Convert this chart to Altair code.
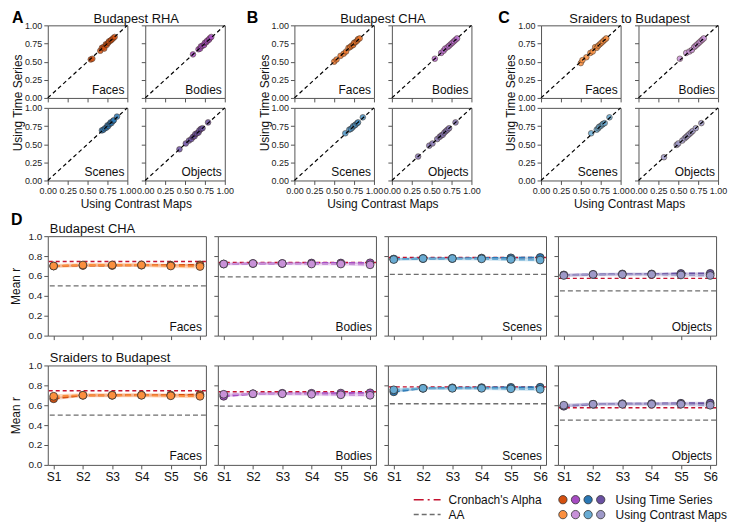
import altair as alt
import pandas as pd

# ---------------- labels ----------------
CATEGORIES = ["Faces", "Bodies", "Scenes", "Objects"]
PANEL_TITLES = ["Budapest RHA", "Budapest CHA", "Sraiders to Budapest"]
PANEL_LETTERS = ["A", "B", "C"]
ROW_TITLES = ["Budapest CHA", "Sraiders to Budapest"]
SESSIONS = ["S1", "S2", "S3", "S4", "S5", "S6"]
SERIES = ["Using Time Series", "Using Contrast Maps"]
SCATTER_TICKS = [0.0, 0.25, 0.5, 0.75, 1.0]
MEAN_TICKS = [0.0, 0.2, 0.4, 0.6, 0.8, 1.0]

# ---------------- scatter data (contrast maps r, time series r) ----------------
RHA_FACES_CM = [0.54, 0.56, 0.66, 0.68, 0.70, 0.71, 0.73, 0.74, 0.76, 0.77, 0.79, 0.80, 0.82, 0.84]
RHA_FACES_TS = [0.53, 0.54, 0.65, 0.69, 0.70, 0.68, 0.74, 0.73, 0.76, 0.78, 0.79, 0.80, 0.82, 0.84]
RHA_BODIES_CM = [0.60, 0.67, 0.69, 0.70, 0.72, 0.74, 0.75, 0.77, 0.78, 0.80, 0.81, 0.83]
RHA_BODIES_TS = [0.60, 0.67, 0.68, 0.71, 0.72, 0.73, 0.76, 0.77, 0.79, 0.80, 0.82, 0.84]
RHA_SCENES_CM = [0.68, 0.70, 0.72, 0.74, 0.75, 0.76, 0.78, 0.79, 0.80, 0.82, 0.83, 0.87]
RHA_SCENES_TS = [0.69, 0.70, 0.72, 0.73, 0.76, 0.75, 0.78, 0.80, 0.79, 0.82, 0.83, 0.88]
RHA_OBJECTS_CM = [0.43, 0.51, 0.55, 0.58, 0.60, 0.62, 0.63, 0.65, 0.67, 0.68, 0.70, 0.72, 0.79]
RHA_OBJECTS_TS = [0.43, 0.51, 0.55, 0.57, 0.60, 0.61, 0.64, 0.65, 0.66, 0.69, 0.71, 0.72, 0.80]

CHA_FACES_CM = [0.50, 0.53, 0.58, 0.62, 0.65, 0.68, 0.70, 0.72, 0.74, 0.75, 0.77, 0.79, 0.80, 0.82]
CHA_FACES_TS = [0.50, 0.53, 0.58, 0.61, 0.64, 0.69, 0.70, 0.72, 0.73, 0.76, 0.77, 0.79, 0.81, 0.82]
CHA_BODIES_CM = [0.54, 0.62, 0.65, 0.67, 0.70, 0.72, 0.74, 0.76, 0.78, 0.80, 0.82]
CHA_BODIES_TS = [0.54, 0.62, 0.65, 0.68, 0.70, 0.72, 0.74, 0.76, 0.78, 0.80, 0.82]
CHA_SCENES_CM = [0.64, 0.69, 0.71, 0.73, 0.74, 0.76, 0.77, 0.79, 0.80, 0.86]
CHA_SCENES_TS = [0.65, 0.70, 0.71, 0.73, 0.75, 0.76, 0.77, 0.79, 0.80, 0.87]
CHA_OBJECTS_CM = [0.33, 0.47, 0.51, 0.57, 0.60, 0.62, 0.64, 0.66, 0.68, 0.70, 0.72, 0.80]
CHA_OBJECTS_TS = [0.33, 0.48, 0.51, 0.57, 0.60, 0.62, 0.63, 0.66, 0.68, 0.70, 0.72, 0.80]

SRA_FACES_CM = [0.50, 0.52, 0.57, 0.62, 0.65, 0.68, 0.70, 0.72, 0.74, 0.76, 0.78, 0.80, 0.82]
SRA_FACES_TS = [0.48, 0.52, 0.56, 0.62, 0.64, 0.70, 0.69, 0.72, 0.74, 0.76, 0.78, 0.80, 0.82]
SRA_BODIES_CM = [0.52, 0.60, 0.64, 0.67, 0.70, 0.72, 0.74, 0.76, 0.78, 0.80, 0.82]
SRA_BODIES_TS = [0.54, 0.62, 0.64, 0.66, 0.70, 0.72, 0.74, 0.76, 0.78, 0.80, 0.82]
SRA_SCENES_CM = [0.63, 0.70, 0.72, 0.73, 0.75, 0.77, 0.78, 0.80, 0.86]
SRA_SCENES_TS = [0.65, 0.70, 0.72, 0.74, 0.75, 0.77, 0.78, 0.79, 0.87]
SRA_OBJECTS_CM = [0.32, 0.48, 0.50, 0.55, 0.58, 0.60, 0.62, 0.64, 0.66, 0.68, 0.72, 0.79]
SRA_OBJECTS_TS = [0.32, 0.49, 0.51, 0.55, 0.58, 0.60, 0.62, 0.64, 0.66, 0.68, 0.72, 0.79]

# ---------------- panel D data (mean r per session) ----------------
CHA_FACES_TSM = [0.700, 0.705, 0.705, 0.708, 0.708, 0.712]
CHA_FACES_CMM = [0.700, 0.710, 0.710, 0.710, 0.700, 0.695]
CHA_BODIES_TSM = [0.720, 0.725, 0.725, 0.730, 0.730, 0.732]
CHA_BODIES_CMM = [0.720, 0.725, 0.725, 0.720, 0.720, 0.712]
CHA_SCENES_TSM = [0.770, 0.775, 0.776, 0.780, 0.782, 0.786]
CHA_SCENES_CMM = [0.765, 0.775, 0.775, 0.772, 0.766, 0.760]
CHA_OBJECTS_TSM = [0.610, 0.615, 0.620, 0.620, 0.625, 0.626]
CHA_OBJECTS_CMM = [0.605, 0.615, 0.615, 0.615, 0.610, 0.605]

SRA_FACES_TSM = [0.665, 0.700, 0.700, 0.702, 0.702, 0.706]
SRA_FACES_CMM = [0.690, 0.700, 0.700, 0.700, 0.695, 0.690]
SRA_BODIES_TSM = [0.690, 0.715, 0.720, 0.720, 0.722, 0.725]
SRA_BODIES_CMM = [0.710, 0.715, 0.715, 0.710, 0.705, 0.700]
SRA_SCENES_TSM = [0.735, 0.770, 0.775, 0.777, 0.780, 0.781]
SRA_SCENES_CMM = [0.755, 0.770, 0.770, 0.770, 0.765, 0.760]
SRA_OBJECTS_TSM = [0.590, 0.610, 0.615, 0.616, 0.620, 0.622]
SRA_OBJECTS_CMM = [0.600, 0.610, 0.610, 0.610, 0.610, 0.600]

# band half widths per category (Faces, Bodies, Scenes, Objects)
CHA_TS_CI = [0.012, 0.010, 0.010, 0.012]
CHA_CM_CI = [0.020, 0.016, 0.016, 0.018]
SRA_TS_CI = [0.014, 0.012, 0.012, 0.014]
SRA_CM_CI = [0.020, 0.016, 0.016, 0.018]

CRONBACH_ALPHA = [0.745, 0.735, 0.785, 0.575]
AA = [0.500, 0.590, 0.615, 0.450]

# ---------------- styles ----------------
DARK = {"Faces": "#d4500f", "Bodies": "#a64cc2", "Scenes": "#2a77b4", "Objects": "#6a50a2"}
MID = {"Faces": "#ec7428", "Bodies": "#b86ccf", "Scenes": "#4a93c6", "Objects": "#8374b2"}
LIGHT = {"Faces": "#fb8f3e", "Bodies": "#c891d8", "Scenes": "#68abd3", "Objects": "#9e99c8"}
PANEL_SHADES = [DARK, MID, LIGHT]
FONT = "Liberation Sans"

SCATTER = {
    ("Budapest RHA", "Faces"): (RHA_FACES_CM, RHA_FACES_TS),
    ("Budapest RHA", "Bodies"): (RHA_BODIES_CM, RHA_BODIES_TS),
    ("Budapest RHA", "Scenes"): (RHA_SCENES_CM, RHA_SCENES_TS),
    ("Budapest RHA", "Objects"): (RHA_OBJECTS_CM, RHA_OBJECTS_TS),
    ("Budapest CHA", "Faces"): (CHA_FACES_CM, CHA_FACES_TS),
    ("Budapest CHA", "Bodies"): (CHA_BODIES_CM, CHA_BODIES_TS),
    ("Budapest CHA", "Scenes"): (CHA_SCENES_CM, CHA_SCENES_TS),
    ("Budapest CHA", "Objects"): (CHA_OBJECTS_CM, CHA_OBJECTS_TS),
    ("Sraiders to Budapest", "Faces"): (SRA_FACES_CM, SRA_FACES_TS),
    ("Sraiders to Budapest", "Bodies"): (SRA_BODIES_CM, SRA_BODIES_TS),
    ("Sraiders to Budapest", "Scenes"): (SRA_SCENES_CM, SRA_SCENES_TS),
    ("Sraiders to Budapest", "Objects"): (SRA_OBJECTS_CM, SRA_OBJECTS_TS),
}
D_TS = [[CHA_FACES_TSM, CHA_BODIES_TSM, CHA_SCENES_TSM, CHA_OBJECTS_TSM],
        [SRA_FACES_TSM, SRA_BODIES_TSM, SRA_SCENES_TSM, SRA_OBJECTS_TSM]]
D_CM = [[CHA_FACES_CMM, CHA_BODIES_CMM, CHA_SCENES_CMM, CHA_OBJECTS_CMM],
        [SRA_FACES_CMM, SRA_BODIES_CMM, SRA_SCENES_CMM, SRA_OBJECTS_CMM]]
D_TS_CI = [CHA_TS_CI, SRA_TS_CI]
D_CM_CI = [CHA_CM_CI, SRA_CM_CI]

# ---------------- geometry ----------------
SW, SH = 80, 73
S_COL_GAP, S_ROW_GAP = 18, 10
SPACER_W = 34
PANEL_W = 2 * SW + S_COL_GAP
LETTER_DX = [-36, -48, -43]
DW, DH = 159, 100
D_COL_GAP, D_ROW_GAP = 12, 30
LEG_H = 36
NOFRAME = alt.ViewBackground(stroke="transparent")


def txt(s, x, y, **kw):
    return alt.Chart(pd.DataFrame({"t": [s]})).mark_text(**kw).encode(
        text="t:N", x=alt.value(x), y=alt.value(y))


def scatter_cell(p, ci, r, c):
    cat = CATEGORIES[ci]
    cm, ts = SCATTER[(PANEL_TITLES[p], cat)]
    color = PANEL_SHADES[p][cat]
    xax = alt.Axis(values=SCATTER_TICKS, format=".2f", labels=(r == 1), title=None,
                   labelFontSize=9, labelFlush=False, labelPadding=2)
    yax = alt.Axis(values=SCATTER_TICKS, format=".2f", labels=(c == 0), title=None,
                   labelFontSize=9, labelPadding=2)
    xenc = alt.X("cm:Q", scale=alt.Scale(domain=[0, 1], nice=False, zero=False), axis=xax)
    yenc = alt.Y("ts:Q", scale=alt.Scale(domain=[0, 1], nice=False, zero=False), axis=yax)
    pts = alt.Chart(pd.DataFrame({"cm": cm, "ts": ts})).mark_circle(
        size=32, color=color, opacity=0.85, stroke="#3a2a20", strokeWidth=0.6
    ).encode(x=xenc, y=yenc)
    diag = alt.Chart(pd.DataFrame({"cm": [0.0, 1.0], "ts": [0.0, 1.0]})).mark_line(
        color="black", strokeDash=[4, 3], strokeWidth=1.2
    ).encode(x=xenc, y=yenc)
    lab = txt(cat, SW - 3, SH - 4, align="right", baseline="alphabetic", fontSize=12, color="#111")
    layers = [pts, diag, lab]
    if r == 0 and c == 0:
        layers += [
            txt(PANEL_LETTERS[p], LETTER_DX[p], -2, align="left", baseline="alphabetic",
                fontSize=16, fontWeight="bold", color="#000"),
            txt(PANEL_TITLES[p], PANEL_W / 2, -2, align="center", baseline="alphabetic",
                fontSize=13, color="#111"),
            txt("Using Time Series", -30, SH + S_ROW_GAP / 2, align="center", baseline="middle",
                angle=270, fontSize=12, color="#111"),
            txt("Using Contrast Maps", PANEL_W / 2, 2 * SH + S_ROW_GAP + 24, align="center",
                baseline="middle", fontSize=12, color="#111"),
        ]
    return alt.layer(*layers).properties(width=SW, height=SH)


def spacer():
    return alt.Chart(pd.DataFrame({"v": [0]})).mark_point(opacity=0).encode(
        x=alt.value(0), y=alt.value(0)).properties(width=SPACER_W, height=SH, view=NOFRAME)


top_cells = []
for r in range(2):
    for p in range(3):
        for c in range(2):
            top_cells.append(scatter_cell(p, 2 * r + c, r, c))
        if p < 2:
            top_cells.append(spacer())

top = alt.concat(*top_cells, columns=8, spacing={"row": S_ROW_GAP, "column": S_COL_GAP},
                 bounds="flush", align="each")


def d_cell(r, ci):
    cat = CATEGORIES[ci]
    ts = D_TS[r][ci]
    cm = D_CM[r][ci]
    tci = D_TS_CI[r][ci]
    cci = D_CM_CI[r][ci]
    df_ts = pd.DataFrame({"session": SESSIONS, "r": ts,
                          "lo": [v - tci for v in ts], "hi": [v + tci for v in ts]})
    df_cm = pd.DataFrame({"session": SESSIONS, "r": cm,
                          "lo": [v - cci for v in cm], "hi": [v + cci for v in cm]})
    xax = alt.Axis(labels=(r == 1), title=None, labelFontSize=12, labelAngle=0,
                   labelPadding=3, labelColor="#111")
    yax = alt.Axis(values=MEAN_TICKS, format=".1f", labels=(ci == 0),
                   title=("Mean r" if ci == 0 else None), labelFontSize=10,
                   titleFontSize=12, titleFontWeight="normal", titlePadding=6, labelPadding=2)
    xenc = alt.X("session:O", scale=alt.Scale(domain=SESSIONS, padding=0.2), axis=xax)

    def yenc(f):
        return alt.Y(f, scale=alt.Scale(domain=[0, 1], nice=False, zero=False), axis=yax)

    aa = alt.Chart(pd.DataFrame({"v": [AA[ci]]})).mark_rule(
        color="#6e6e6e", strokeDash=[5, 3], strokeWidth=1.3).encode(y=yenc("v:Q"))
    band_cm = alt.Chart(df_cm).mark_area(color=LIGHT[cat], opacity=0.35).encode(
        x=xenc, y=yenc("lo:Q"), y2="hi:Q")
    band_ts = alt.Chart(df_ts).mark_area(color=DARK[cat], opacity=0.25).encode(
        x=xenc, y=yenc("lo:Q"), y2="hi:Q")
    alpha = alt.Chart(pd.DataFrame({"v": [CRONBACH_ALPHA[ci]]})).mark_rule(
        color="#c4122f", strokeDash=[4, 3], strokeWidth=1.4).encode(y=yenc("v:Q"))
    line_ts = alt.Chart(df_ts).mark_line(color=DARK[cat], strokeDash=[6, 3], strokeWidth=1.8).encode(
        x=xenc, y=yenc("r:Q"))
    line_cm = alt.Chart(df_cm).mark_line(color=LIGHT[cat], strokeDash=[6, 3], strokeWidth=1.8).encode(
        x=xenc, y=yenc("r:Q"))
    pts_ts = alt.Chart(df_ts).mark_circle(size=62, color=DARK[cat], opacity=1,
                                          stroke="#333", strokeWidth=0.8).encode(x=xenc, y=yenc("r:Q"))
    pts_cm = alt.Chart(df_cm).mark_circle(size=62, color=LIGHT[cat], opacity=1,
                                          stroke="#333", strokeWidth=0.8).encode(x=xenc, y=yenc("r:Q"))
    lab = txt(cat, DW - 4, DH - 5, align="right", baseline="alphabetic", fontSize=12, color="#111")
    layers = [aa, band_cm, band_ts, alpha, line_ts, line_cm, pts_ts, pts_cm, lab]
    if ci == 0:
        layers.append(txt(ROW_TITLES[r], 2, -3, align="left", baseline="alphabetic",
                          fontSize=13, color="#111"))
        if r == 0:
            layers.append(txt("D", -37, -11, align="left", baseline="alphabetic",
                              fontSize=16, fontWeight="bold", color="#000"))
    return alt.layer(*layers).properties(width=DW, height=DH)


d_cells = [d_cell(r, ci) for r in range(2) for ci in range(4)]
dsec = alt.concat(*d_cells, columns=4, spacing={"row": D_ROW_GAP, "column": D_COL_GAP},
                  bounds="flush", align="each")

# ---------------- legend ----------------
leg_rows = []
for s, pal in zip(SERIES, [DARK, LIGHT]):
    for cat in CATEGORIES:
        leg_rows.append({"k": cat, "series": s, "fill": pal[cat]})
leg_df = pd.DataFrame(leg_rows)
ly = alt.Y("series:N", scale=alt.Scale(type="point", domain=SERIES, range=[15, 30], padding=0), axis=None)
dots = alt.Chart(leg_df).mark_circle(size=70, opacity=1, stroke="#333", strokeWidth=0.8).encode(
    x=alt.X("k:N", scale=alt.Scale(type="point", domain=CATEGORIES, range=[518, 556], padding=0), axis=None),
    y=ly,
    fill=alt.Fill("fill:N", scale=None),
)
dot_txt = alt.Chart(pd.DataFrame({"series": SERIES})).mark_text(
    align="left", baseline="middle", fontSize=12, color="#111").encode(
    text="series:N", y=ly, x=alt.value(571))
alpha_line = alt.Chart(pd.DataFrame({"v": [0]})).mark_rule(
    color="#c4122f", strokeDash=[10, 4, 2, 4], strokeWidth=1.5).encode(
    x=alt.value(368), x2=alt.value(395), y=alt.value(15))
aa_line = alt.Chart(pd.DataFrame({"v": [0]})).mark_rule(
    color="#6e6e6e", strokeDash=[5, 3], strokeWidth=1.5).encode(
    x=alt.value(368), x2=alt.value(395), y=alt.value(30))
alpha_txt = txt("Cronbach's Alpha", 403, 15, align="left", baseline="middle", fontSize=12, color="#111")
aa_txt = txt("AA", 403, 30, align="left", baseline="middle", fontSize=12, color="#111")
legend = alt.layer(alpha_line, aa_line, alpha_txt, aa_txt, dots, dot_txt).properties(
    width=4 * DW + 3 * D_COL_GAP, height=LEG_H, view=NOFRAME)

chart = alt.vconcat(top, dsec, legend, spacing=0).properties(padding=0).configure(
    font=FONT
).configure_view(
    stroke="#555", strokeWidth=1
).configure_axis(
    domain=False, grid=False, tickColor="#555", tickSize=4, tickWidth=1,
    labelColor="#222", titleColor="#111", labelFont=FONT, titleFont=FONT
)

chart.save("out.html", embed_options={"renderer": "svg", "actions": False})
